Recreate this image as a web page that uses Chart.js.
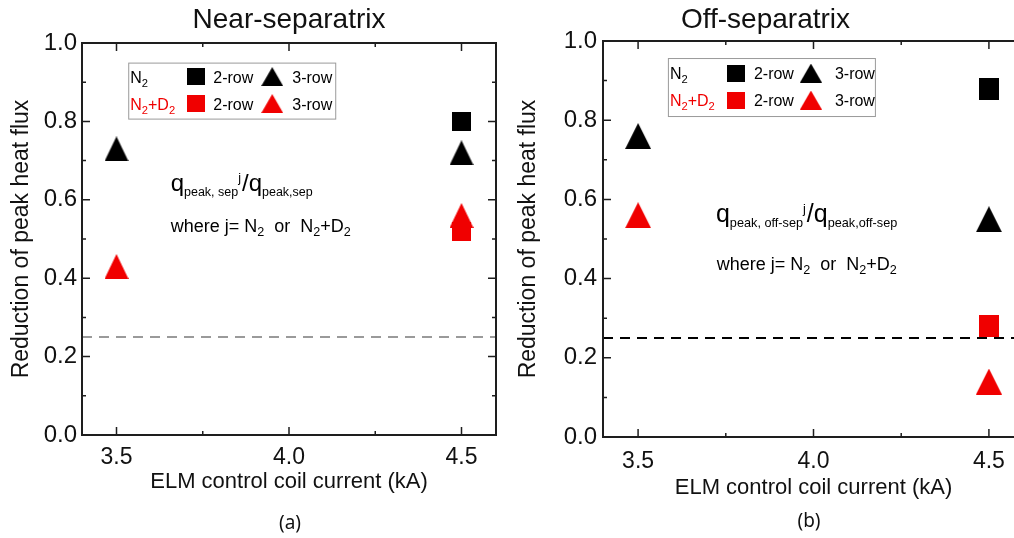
<!DOCTYPE html>
<html>
<head>
<meta charset="utf-8">
<script src="https://cdn.jsdelivr.net/npm/chart.js@4.4.1/dist/chart.umd.min.js"></script>
<style>
  html, body { margin: 0; padding: 0; background: #fff; overflow: hidden; width: 1014px; height: 538px; }
  #wrapA { position: absolute; left: 0; top: 0; width: 507px; height: 538px; }
  #wrapB { position: absolute; left: 507px; top: 0; width: 570px; height: 538px; }
  .tag { position: absolute; font-family: "Noto Sans", "Open Sans", sans-serif; font-size: 19px; color: #111;
         transform: translate(-50%, -50%); line-height: 1; }
</style>
</head>
<body>
<div id="wrapA"><canvas id="chartA" width="507" height="538"></canvas></div>
<div id="wrapB"><canvas id="chartB" width="570" height="538"></canvas></div>
<div class="tag" style="left:290px; top:522px;">(a)</div>
<div class="tag" style="left:809px; top:520px;">(b)</div>

<script>
// data
const currents = [3.5, 4.5];               // kA
const nearN2Row2 = [null, 0.80];
const nearN2Row3 = [0.73, 0.72];
const nearN2D2Row2 = [null, 0.52];
const nearN2D2Row3 = [0.43, 0.56];
const offN2Row2 = [null, 0.88];
const offN2Row3 = [0.76, 0.55];
const offN2D2Row2 = [null, 0.28];
const offN2D2Row3 = [0.56, 0.14];
const threshold = 0.25;

const xTicks = [3.5, 4.0, 4.5];
const xMinor = [3.75, 4.25];
const yTicks = [0, 0.2, 0.4, 0.6, 0.8, 1.0];
const yMinor = [0.1, 0.3, 0.5, 0.7, 0.9];

const gasLabels = ['N2', 'N2+D2'];
const gasColors = ['#000000', '#f00000'];
const rowLabels = ['2-row', '3-row'];
const whereText = 'where j= N2  or  N2+D2';

const FONT = '"Liberation Sans", Arial, sans-serif';
Chart.defaults.font.family = FONT;
Chart.defaults.color = '#111';

// filled marker drawn once, used as pointStyle
function marker(shape, color, w, h) {
    const c = document.createElement('canvas');
    c.width = w; c.height = h;
    const g = c.getContext('2d');
    g.fillStyle = color;
    if (shape === 'tri') {
        g.beginPath();
        g.moveTo(w / 2, 0); g.lineTo(w, h); g.lineTo(0, h);
        g.closePath(); g.fill();
    } else {
        g.fillRect(0, 0, w, h);
    }
    return c;
}

// text with subscripts / superscripts, left to right
function drawRuns(ctx, x, y, runs) {
    ctx.textAlign = 'left';
    ctx.textBaseline = 'alphabetic';
    runs.forEach(r => {
        ctx.font = r.size + 'px ' + FONT;
        ctx.fillStyle = r.color || '#000';
        ctx.fillText(r.text, x, y + (r.dy || 0));
        x += ctx.measureText(r.text).width + (r.gap || 0);
    });
}

// "N2+D2" -> N, sub 2, +D, sub 2
function chemRuns(text, size, color) {
    const runs = [];
    text.split(/(?<=[A-Z])(\d)/).forEach(part => {
        if (!part) return;
        if (/^\d$/.test(part)) runs.push({ text: part, size: size * 0.7, dy: size * 0.25, color });
        else runs.push({ text: part, size, color });
    });
    return runs;
}

const framePlugin = {
    id: 'frame',
    afterDatasetsDraw(chart) {
        const { ctx, chartArea: a, scales: { x, y } } = chart;
        ctx.save();
        ctx.strokeStyle = '#1e1e1e';
        ctx.lineWidth = 2;
        ctx.strokeRect(a.left, a.top, a.right - a.left, a.bottom - a.top);
        ctx.lineWidth = 1.5;
        ctx.beginPath();
        const xt = (v, len) => {
            const px = x.getPixelForValue(v);
            ctx.moveTo(px, a.bottom); ctx.lineTo(px, a.bottom - len);
            ctx.moveTo(px, a.top); ctx.lineTo(px, a.top + len);
        };
        const yt = (v, len) => {
            const py = y.getPixelForValue(v);
            ctx.moveTo(a.left, py); ctx.lineTo(a.left + len, py);
            ctx.moveTo(a.right, py); ctx.lineTo(a.right - len, py);
        };
        xTicks.forEach(v => xt(v, 8));
        xMinor.forEach(v => xt(v, 4));
        yTicks.forEach(v => yt(v, 8));
        yMinor.forEach(v => yt(v, 4));
        ctx.stroke();
        ctx.restore();
    }
};

function notesPlugin(p) {
    return {
        id: 'notes',
        afterDraw(chart) {
            const { ctx, scales: { x, y } } = chart;
            ctx.save();
            // legend box
            const L = p.legend;
            const bx = x.getPixelForValue(L.at[0]), by = y.getPixelForValue(L.at[1]);
            ctx.fillStyle = '#fff';
            ctx.fillRect(bx, by, L.w, L.h);
            ctx.strokeStyle = '#9a9a9a';
            ctx.lineWidth = 1;
            ctx.strokeRect(bx + 0.5, by + 0.5, L.w, L.h);
            gasLabels.forEach((gas, i) => {
                const cy = by + L.rows[i];
                drawRuns(ctx, bx + 2, cy + 6, chemRuns(gas, 16, gasColors[i]));
                ctx.drawImage(p.legSq[i], bx + L.sqDx - p.legSq[i].width / 2, cy - p.legSq[i].height / 2);
                drawRuns(ctx, bx + L.sqText, cy + 6, [{ text: rowLabels[0], size: 16 }]);
                ctx.drawImage(p.legTri[i], bx + L.triDx - p.legTri[i].width / 2, cy - p.legTri[i].height / 2);
                drawRuns(ctx, bx + L.triText, cy + 6, [{ text: rowLabels[1], size: 16 }]);
            });
            // ratio expression
            const E = p.eq;
            drawRuns(ctx, x.getPixelForValue(E.at[0]), y.getPixelForValue(E.at[1]), [
                { text: 'q', size: E.big },
                { text: E.sub1, size: E.small, dy: 5 },
                { text: 'j', size: E.small, dy: -9, gap: 1 },
                { text: '/q', size: E.big },
                { text: E.sub2, size: E.small, dy: 5 }
            ]);
            drawRuns(ctx, x.getPixelForValue(p.where[0]), y.getPixelForValue(p.where[1]), chemRuns(whereText, 18, '#000'));
            ctx.restore();
        }
    };
}

function makePanel(id, p) {
    const sq = gasColors.map(c => marker('sq', c, p.sq[0], p.sq[1]));
    const tri = gasColors.map(c => marker('tri', c, p.tri[0], p.tri[1]));
    p.legSq = gasColors.map(c => marker('sq', c, 18, 17));
    p.legTri = gasColors.map(c => marker('tri', c, 22, 19));

    const ds = (label, values, img) => ({
        label: label,
        data: currents.map((c, i) => ({ x: c, y: values[i] })).filter(d => d.y !== null),
        pointStyle: img,
        pointRadius: 10,
        pointHoverRadius: 10
    });

    return new Chart(document.getElementById(id), {
        type: 'scatter',
        data: {
            datasets: [
                ds('N2 2-row', p.series[0], sq[0]),
                ds('N2 3-row', p.series[1], tri[0]),
                ds('N2+D2 3-row', p.series[3], tri[1]),
                ds('N2+D2 2-row', p.series[2], sq[1]),
                {
                    label: 'reference',
                    data: [{ x: 3.4, y: threshold }, { x: 4.6, y: threshold }],
                    showLine: true,
                    borderColor: p.dash,
                    borderWidth: 2,
                    borderDash: [10, 7],
                    pointRadius: 0
                }
            ]
        },
        options: {
            responsive: false,
            animation: false,
            layout: { padding: { left: 0, right: p.padRight, top: 0, bottom: 0 } },
            plugins: {
                legend: { display: false },
                tooltip: { enabled: false },
                title: {
                    display: true,
                    text: p.title,
                    fullSize: p.titleFull,
                    color: '#111',
                    font: { size: 28, weight: 'normal' },
                    padding: { top: 3, bottom: p.areaTop - 3 - 33.6 }
                }
            },
            scales: {
                x: {
                    type: 'linear',
                    min: 3.4,
                    max: 4.6,
                    afterBuildTicks: s => { s.ticks = xTicks.map(v => ({ value: v })); },
                    afterFit: s => { s.height = 538 - p.areaBottom; },
                    grid: { display: false, drawTicks: false },
                    border: { display: false },
                    ticks: { font: { size: 23 }, color: '#111', padding: p.xPad, maxRotation: 0, callback: v => v.toFixed(1) },
                    title: {
                        display: true,
                        text: 'ELM control coil current (kA)',
                        color: '#111',
                        font: { size: 22 },
                        padding: { top: 0, bottom: p.xTitlePad }
                    }
                },
                y: {
                    min: 0,
                    max: 1,
                    afterBuildTicks: s => { s.ticks = yTicks.map(v => ({ value: v })); },
                    afterFit: s => { s.width = p.areaLeft; },
                    grid: { display: false, drawTicks: false },
                    border: { display: false },
                    ticks: { font: { size: 24 }, color: '#111', padding: p.yPad, callback: v => v.toFixed(1) },
                    title: {
                        display: true,
                        text: 'Reduction of peak heat flux',
                        color: '#111',
                        font: { size: 23 },
                        padding: { top: 8, bottom: 0 }
                    }
                }
            }
        },
        plugins: [framePlugin, notesPlugin(p)]
    });
}

makePanel('chartA', {
    title: 'Near-separatrix',
    titleFull: false,
    series: [nearN2Row2, nearN2Row3, nearN2D2Row2, nearN2D2Row3],
    dash: '#9a9a9a',
    sq: [19, 19], tri: [24, 25],
    padRight: 7, areaLeft: 82, areaTop: 43, areaBottom: 435,
    xPad: 9, yPad: 5, xTitlePad: 43,
    legend: { at: [3.534, 0.950], w: 207, h: 56, rows: [14, 41], sqDx: 68, sqText: 85, triDx: 144, triText: 164 },
    eq: { at: [3.657, 0.622], big: 24, small: 12.5, sub1: 'peak, sep', sub2: 'peak,sep' },
    where: [3.657, 0.518]
});

makePanel('chartB', {
    title: 'Off-separatrix',
    titleFull: true,
    series: [offN2Row2, offN2Row3, offN2D2Row2, offN2D2Row3],
    dash: '#000000',
    sq: [20, 22], tri: [26, 26],
    padRight: 53, areaLeft: 96, areaTop: 41, areaBottom: 437,
    xPad: 11, yPad: 6, xTitlePad: 37,
    legend: { at: [3.585, 0.957], w: 207, h: 58, rows: [15, 42], sqDx: 68, sqText: 86, triDx: 143, triText: 167 },
    eq: { at: [3.722, 0.543], big: 25, small: 12.7, sub1: 'peak, off-sep', sub2: 'peak,off-sep' },
    where: [3.724, 0.422]
});
</script>
</body>
</html>
